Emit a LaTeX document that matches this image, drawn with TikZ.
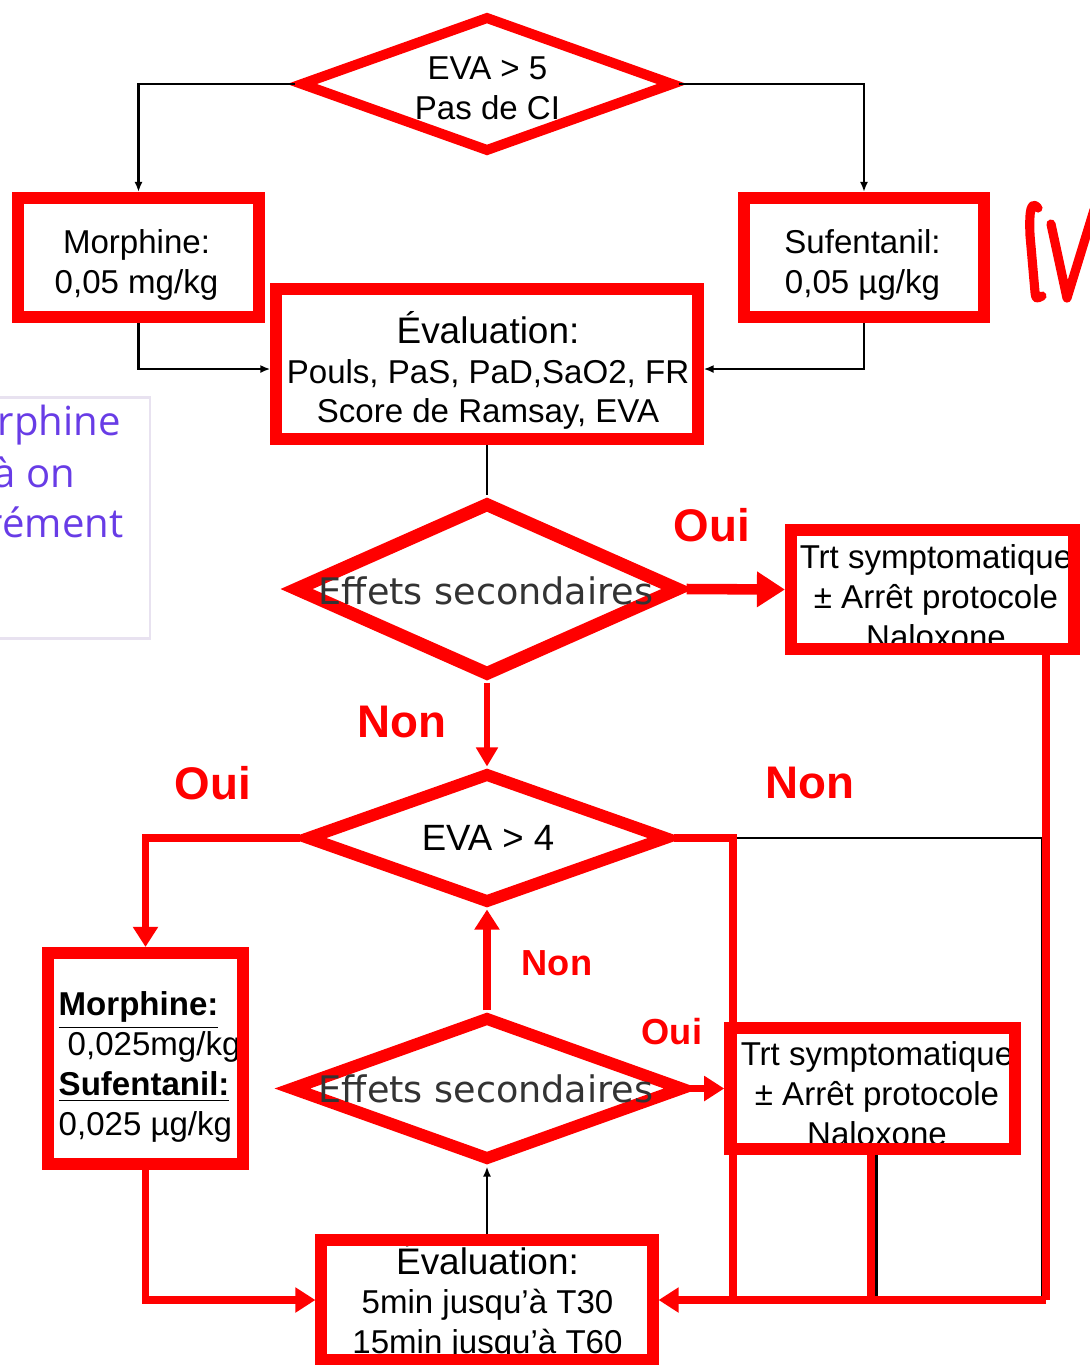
\documentclass[tikz,border=0pt]{standalone}
\usepackage{fontspec}
\setmainfont{Liberation Sans}
\newfontfamily\effetsfont{DejaVu Sans}
\newfontfamily\notefont{Open Sans}
\usetikzlibrary{shapes.geometric, arrows.meta}

\definecolor{notepurple}{RGB}{104,60,230}
\definecolor{noteframe}{RGB}{232,226,240}
\definecolor{effetsgray}{RGB}{51,51,51}

\newcommand{\flowfont}{\fontsize{9.4}{11.3}\selectfont}
\newcommand{\headfont}{\fontsize{10.5}{12}\selectfont}

\begin{document}
\begin{tikzpicture}[x = 0.01cm, y = -0.01cm, > = {Latex[length=1mm, width=0.8mm]},
	frame/.style = {draw = red, line width = 3.4pt, inner sep = 0pt},
	decision/.style = {diamond, draw = red, inner sep = 0pt},
	boxtext/.style = {align = center, inner sep = 0pt, font = \flowfont},
	effetstext/.style = {inner sep = 0pt, effetsgray, font = \effetsfont\fontsize{10.4}{12}\selectfont},
	answer/.style = {red, inner sep = 0pt, font = \bfseries\fontsize{13}{15}\selectfont},
	smallanswer/.style = {red, inner sep = 0pt, font = \bfseries\fontsize{10.3}{12}\selectfont},
	link/.style = {line width = 0.8pt},
	redline/.style = {red, line width = 2.2pt},
	redarrow/.style = {red, line width = 2.2pt, -{Triangle[length = 0.2cm, width = 0.24cm]}}]

	% Page
	
	\useasboundingbox (0, 0) rectangle (1090, 1365);
	\clip (0, 0) rectangle (1090, 1365);
	
	% Side note, cut at the left edge
	
	\draw [noteframe, line width = 0.85pt] (-10, 397) rectangle (150, 638);
	\node (note-a) [notepurple, anchor = base west, inner sep = 0pt, font = \notefont\fontsize{11.4}{13}\selectfont] at (-3, 435) {rphine};
	\node (note-b) [notepurple, anchor = base west, inner sep = 0pt, font = \notefont\fontsize{11.4}{13}\selectfont] at (-7, 487) {à on};
	\node (note-c) [notepurple, anchor = base west, inner sep = 0pt, font = \notefont\fontsize{11.4}{13}\selectfont] at (-14, 537) {rément};
	
	% Handwritten IV
	
	\draw [red, line width = 2.6pt, line cap = round, line join = round]
		(1038, 208) .. controls (1031, 200) and (1029, 210) .. (1030, 235) -- (1035, 292) .. controls (1036, 299) .. (1042, 296);
	\draw [red, line width = 2.6pt, line cap = round, line join = round] (1051, 224) -- (1067, 298) -- (1094, 210);
	
	% Texts of the boxes
	
	\node (morph-text) [boxtext] at (136.5, 265) {Morphine:\\0,05 mg/kg};
	\node (sufenta-text) [boxtext] at (862.5, 265) {Sufentanil:\\0,05 µg/kg};
	\node (eval1-text) [boxtext] at (488, 370.5) {{\headfont Évaluation:}\\Pouls, PaS, PaD,SaO2, FR\\Score de Ramsay, EVA};
	\node (trt1-text) [boxtext] at (936, 596.7) {Trt symptomatique\\± Arrêt protocole\\Naloxone};
	\node (dose-text) [anchor = west, align = left, inner sep = 0pt, font = \flowfont] at (58, 1067)
		{\underline{\textbf{Morphine:}}\\\hspace*{0.09cm}0,025mg/kg\\\underline{\textbf{Sufentanil:}}\\0,025 µg/kg};
	\node (trt2-text) [boxtext] at (877, 1093.7) {Trt symptomatique\\± Arrêt protocole\\Naloxone};
	\node (eval2-text) [boxtext] at (487.5, 1301.4) {{\headfont Évaluation:}\\5min jusqu’à T30\\15min jusqu’à T60};
	
	% Red frames
	
	\node (morph) [frame, minimum width = 2.41cm, minimum height = 1.19cm] at (138.5, 257.5) {};
	\node (sufenta) [frame, minimum width = 2.40cm, minimum height = 1.19cm] at (864, 257.5) {};
	\node (eval1) [frame, minimum width = 4.21cm, minimum height = 1.50cm] at (487, 364) {};
	\node (trt1) [frame, minimum width = 2.83cm, minimum height = 1.19cm] at (932.5, 589.5) {};
	\node (dose) [frame, minimum width = 1.95cm, minimum height = 2.11cm] at (145.5, 1058.5) {};
	\node (trt2) [frame, minimum width = 2.85cm, minimum height = 1.21cm] at (872.8, 1088.5) {};
	\node (eval2) [frame, minimum width = 3.31cm, minimum height = 1.20cm] at (487, 1300) {};
	
	% Decisions
	
	\node (eva5) [decision, line width = 2.85pt, minimum width = 3.74cm, minimum height = 1.36cm] at (487, 84) {};
	\node (effets1) [decision, line width = 3.7pt, minimum width = 3.86cm, minimum height = 1.74cm] at (487, 589) {};
	\node (eva4) [decision, line width = 3.4pt, minimum width = 3.62cm, minimum height = 1.31cm] at (487, 838) {};
	\node (effets2) [decision, line width = 3.4pt, minimum width = 3.94cm, minimum height = 1.44cm] at (487, 1088.5) {};
	
	\node (eva5-text) [boxtext] at (487.5, 88) {EVA > 5\\Pas de CI};
	\node (effets1-text) [effetstext] at (486, 591) {Effets secondaires};
	\node (eva4-text) [inner sep = 0pt, font = \fontsize{10.4}{12}\selectfont] at (488, 838) {EVA > 4};
	\node (effets2-text) [effetstext] at (486, 1089) {Effets secondaires};
	
	% Black links
	
	\draw [link, ->] (eva5.west) -| (morph.north);
	\draw [link, ->] (eva5.east) -| (sufenta.north);
	\draw [link, ->] (morph.south) |- ([yshift = -0.05cm]eval1.west);
	\draw [link, ->] (sufenta.south) |- ([yshift = -0.05cm]eval1.east);
	\draw [link] (eval1.south) -- (effets1.north);
	\draw [link, ->] (eval2.north) -- (effets2.south);
	
	\coordinate (black-corner) at (1042, 1300);
	\draw [link] (eva4.east) -| (black-corner);
	\draw [link] ([xshift = 0.04cm]trt2.south) -- ([xshift = 0.04cm]trt2.south |- black-corner);
	
	% Red links
	
	\draw [red, line width = 3pt, -{Triangle[length = 0.28cm, width = 0.34cm]}] (effets1.east) -- (trt1.west);
	\draw [red, line width = 1.7pt, -{Triangle[length = 0.19cm, width = 0.21cm]}] (effets1.south) -- (eva4.north);
	\draw [redarrow] (eva4.west) -| (dose.north);
	
	\coordinate (non-corner) at (733, 1300);
	\coordinate (red-corner) at (1046, 1300);
	\draw [redline] (eva4.east) -| (non-corner);
	\draw [redline] (trt1.south -| red-corner) -- (red-corner);
	\draw [redline] ([xshift = -0.02cm]trt2.south) -- ([xshift = -0.02cm]trt2.south |- red-corner);
	\draw [redarrow] (red-corner) -- (eval2.east);
	\draw [redarrow] (dose.south) |- (eval2.west);
	\draw [redarrow] (effets2.north) -- (eva4.south);
	\draw [redarrow] (effets2.east) -- (trt2.west);
	
	% Answers
	
	\node (oui-top) [answer] at (712, 525) {Oui};
	\node (non-down) [answer] at (402, 722) {Non};
	\node (oui-left) [answer] at (213, 783) {Oui};
	\node (non-right) [answer] at (810, 783) {Non};
	\node (non-up) [smallanswer] at (557, 963) {Non};
	\node (oui-low) [smallanswer] at (672, 1032) {Oui};
	
\end{tikzpicture}
\end{document}
